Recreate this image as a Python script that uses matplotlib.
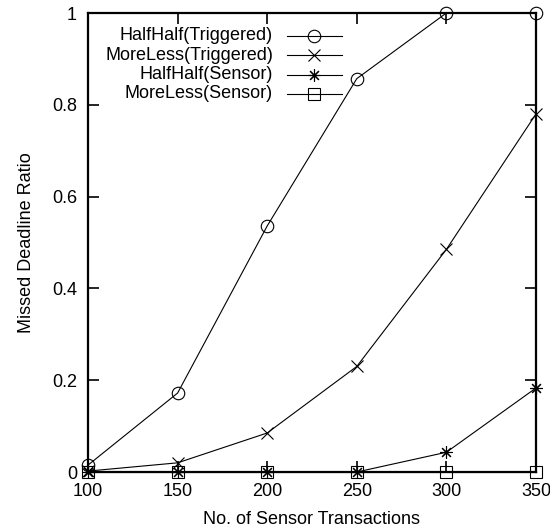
import matplotlib.pyplot as plt

plt.rcParams["font.family"] = ["Liberation Sans", "DejaVu Sans"]

transactions = [100, 150, 200, 250, 300, 350]
halfhalf_triggered = [0.015, 0.172, 0.536, 0.857, 1.0, 1.0]
moreless_triggered = [0.002, 0.020, 0.085, 0.230, 0.485, 0.780]
halfhalf_sensor = [0.0, 0.0, 0.0, 0.0, 0.043, 0.183]
moreless_sensor = [0.0, 0.0, 0.0, 0.0, 0.0, 0.0]

labels = ["HalfHalf(Triggered)", "MoreLess(Triggered)",
          "HalfHalf(Sensor)", "MoreLess(Sensor)"]
markers = ["o", "x", (8, 2, 0), "s"]
series = [halfhalf_triggered, moreless_triggered, halfhalf_sensor, moreless_sensor]

fig = plt.figure(figsize=(5.5, 5.31), dpi=100)
ax = fig.add_axes([0.16, 0.1111, 0.8145, 0.8644])

for vals, m in zip(series, markers):
    ax.plot(transactions, vals, color="black", linewidth=0.8, marker=m,
            markersize=9, markerfacecolor="none", markeredgecolor="black",
            markeredgewidth=0.8, clip_on=False)

# gnuplot-style key: right-aligned text followed by a sample line
key_y = [0.950, 0.908, 0.866, 0.824]
for y, lab, m in zip(key_y, labels, markers):
    ax.text(0.413, y, lab, transform=ax.transAxes, ha="right", va="center",
            fontsize=13)
    ax.plot([0.444, 0.567], [y, y], transform=ax.transAxes, color="black",
            linewidth=0.8)
    ax.plot([0.5055], [y], transform=ax.transAxes, color="black", marker=m,
            markersize=9, markerfacecolor="none", markeredgewidth=0.8)

ax.set_xlim(100, 350)
ax.set_ylim(0, 1)
ax.set_xticks(transactions)
ax.set_yticks([0, 0.2, 0.4, 0.6, 0.8, 1.0])
ax.set_yticklabels(["0", "0.2", "0.4", "0.6", "0.8", "1"])
ax.tick_params(direction="in", length=8, width=1.2, top=True, right=True,
               labelsize=13)
ax.tick_params(axis="x", pad=8)
ax.tick_params(axis="y", pad=8)
for sp in ax.spines.values():
    sp.set_linewidth(1.6)

ax.set_xlabel("No. of Sensor Transactions", fontsize=13, labelpad=8)
ax.set_ylabel("Missed Deadline Ratio", fontsize=13, labelpad=12)

fig.savefig("out.png", dpi=100)
plt.close(fig)
